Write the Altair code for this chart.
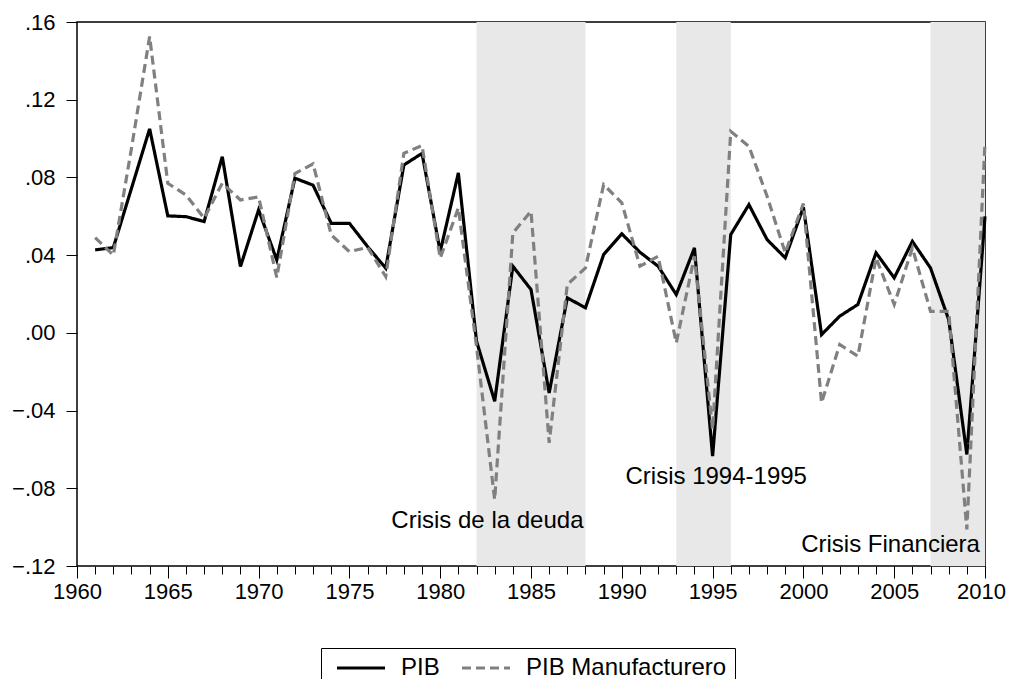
import altair as alt
import pandas as pd

years = list(range(1961, 2011))
pib = [0.0427, 0.0439, 0.0744, 0.1050, 0.0602, 0.0598, 0.0573, 0.0907, 0.0341, 0.0633,
       0.0375, 0.0796, 0.0760, 0.0564, 0.0564, 0.0444, 0.0333, 0.0864, 0.0924, 0.0418,
       0.0823, -0.0043, -0.0352, 0.0343, 0.0223, -0.0309, 0.0180, 0.0129, 0.0403, 0.0510,
       0.0415, 0.0343, 0.0197, 0.0437, -0.0635, 0.0506, 0.0660, 0.0480, 0.0386, 0.0647,
       -0.0009, 0.0086, 0.0146, 0.0412, 0.0283, 0.0471, 0.0334, 0.0068, -0.0626, 0.0600]
manuf = [0.0490, 0.0400, 0.0950, 0.1525, 0.0770, 0.0710, 0.0590, 0.0770, 0.0684, 0.0700,
         0.0285, 0.0820, 0.0870, 0.0504, 0.0418, 0.0440, 0.0290, 0.0924, 0.0964, 0.0384,
         0.0643, -0.0070, -0.0858, 0.0514, 0.0626, -0.0566, 0.0249, 0.0334, 0.0763, 0.0669,
         0.0343, 0.0394, -0.0051, 0.0394, -0.0497, 0.1037, 0.0960, 0.0703, 0.0412, 0.0665,
         -0.0360, -0.0060, -0.0120, 0.0386, 0.0146, 0.0437, 0.0111, 0.0111, -0.1012, 0.0980]
series = ["PIB", "PIB Manufacturero"]

crisis_start = [1982, 1993, 2007]
crisis_end = [1988, 1996, 2010]

label_text = ["Crisis de la deuda", "Crisis 1994-1995", "Crisis Financiera"]
label_x = [1982.6, 1995.2, 2004.8]
label_y = [-0.097, -0.074, -0.109]

x_ticks = [1960, 1965, 1970, 1975, 1980, 1985, 1990, 1995, 2000, 2005, 2010]
x_minor = list(range(1960, 2011))
y_ticks = [-0.12, -0.08, -0.04, 0.00, 0.04, 0.08, 0.12, 0.16]

df = pd.DataFrame({
    "year": years * 2,
    "value": pib + manuf,
    "serie": [series[0]] * len(years) + [series[1]] * len(years),
})
shade_df = pd.DataFrame({"start": crisis_start, "end": crisis_end})
lab_df = pd.DataFrame({"label": label_text, "lx": label_x, "ly": label_y})

FONT = "Liberation Sans"
xs = alt.Scale(domain=[1960, 2010], nice=False, zero=False)
ys = alt.Scale(domain=[-0.12, 0.16], nice=False, zero=False)

minor_axis = alt.Axis(values=x_minor, tickSize=8, labels=False, domain=False, grid=False,
                      orient="bottom", title=None, zindex=1, tickColor="black", tickWidth=1)
major_axis = alt.Axis(values=x_ticks, tickSize=12, format="d", domain=False, grid=False,
                      orient="bottom", title=None, zindex=1, tickColor="black", tickWidth=1,
                      labelFontSize=22, labelFont=FONT, labelColor="black", labelPadding=3,
                      labelFlush=False,
                      labelOffset={"condition": {"test": "datum.value == 2010", "value": -4},
                                   "value": 0})
y_axis = alt.Axis(values=y_ticks, tickSize=11, domain=False, grid=False, title=None,
                  zindex=1, tickColor="black", tickWidth=1, labelFontSize=22, labelFont=FONT,
                  labelColor="black", labelPadding=11, labelFlush=False,
                  labelExpr="replace(format(datum.value, '.2f'), '0.', '.')")

# wide horizontal stroke symbol; item height stays small
legend = alt.Legend(title=None, orient="none", legendX=244, legendY=626, direction="horizontal",
                    symbolType="M-3,0H3", symbolSize=256, symbolStrokeWidth=3,
                    labelFontSize=24, labelFont=FONT, labelColor="black", labelOffset=28,
                    labelLimit=400, columnPadding=14, padding=8, symbolOffset=20,
                    strokeColor="black", fillColor="white")

shade = alt.Chart(shade_df).mark_rect(color="#E8E8E8").encode(
    x=alt.X("start:Q", scale=xs, axis=minor_axis),
    x2="end:Q",
    y=alt.Y(datum=0.16, type="quantitative", scale=ys, axis=y_axis),
    y2=alt.Y2(datum=-0.12),
)

labels = alt.Chart(lab_df).mark_text(fontSize=24, font=FONT, color="black").encode(
    x=alt.X("lx:Q", scale=xs, axis=None),
    y=alt.Y("ly:Q", scale=ys, axis=y_axis),
    text="label:N",
)

lines = alt.Chart(df).mark_line(strokeWidth=3.2).encode(
    x=alt.X("year:Q", scale=xs, axis=major_axis),
    y=alt.Y("value:Q", scale=ys, axis=y_axis),
    color=alt.Color("serie:N", scale=alt.Scale(domain=series, range=["#000000", "#808080"]),
                    legend=legend),
    strokeDash=alt.StrokeDash("serie:N", scale=alt.Scale(domain=series, range=[[1, 0], [9, 5]]),
                              legend=legend),
)

chart = alt.layer(shade, labels, lines).resolve_axis(x="independent").properties(
    width=908, height=544,
    autosize=alt.AutoSizeParams(type="none"),
    padding={"left": 69, "top": 14, "right": 21, "bottom": 113},
).configure(
    font=FONT, background="white",
    view=alt.ViewConfig(stroke="black", strokeWidth=1.5),
)

chart.save("out.html", embed_options={"renderer": "svg", "actions": False})
